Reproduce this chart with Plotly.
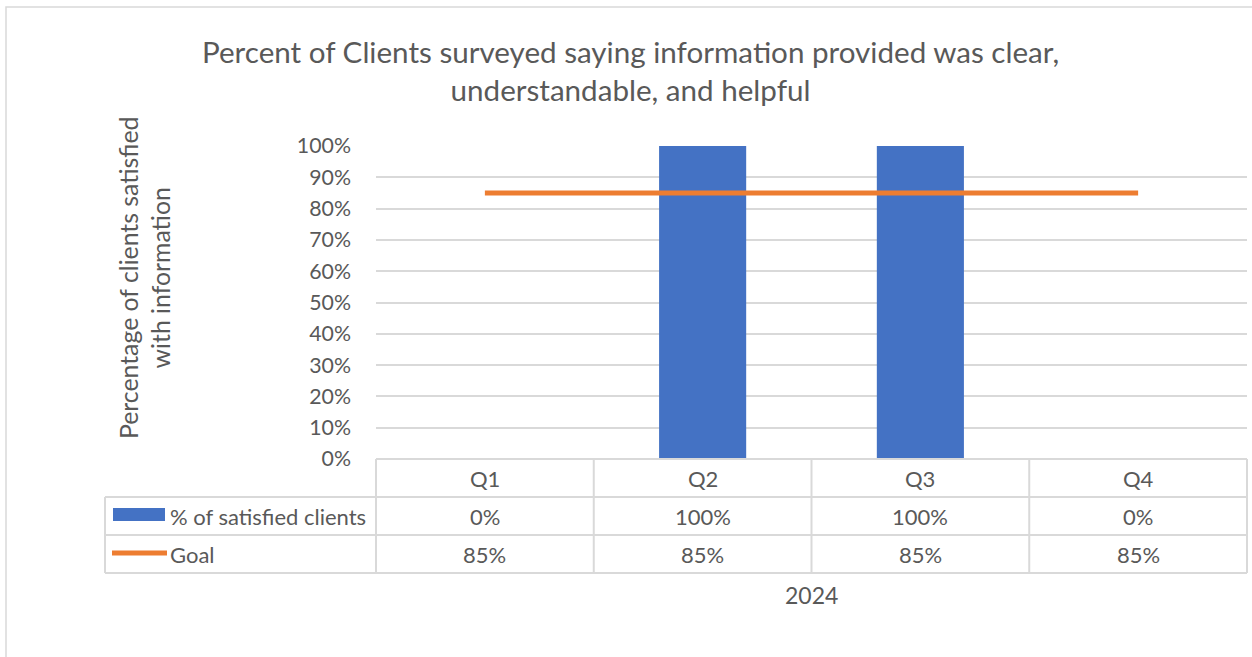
import plotly.graph_objects as go

quarters = ["Q1", "Q2", "Q3", "Q4"]
satisfied = [0, 100, 100, 0]
goal = [85, 85, 85, 85]
series_names = ["% of satisfied clients", "Goal"]
year_label = "2024"
title_text = "Percent of Clients surveyed saying information provided was clear,<br>understandable, and helpful"
y_title = "Percentage of clients satisfied<br>with information"

W, H = 1252, 657
BAR_COLOR = "#4472C4"
LINE_COLOR = "#ED7D31"
TEXT = "#595959"
GRID = "#D9D9D9"
FONT = "Lato"

def px(x):
    return x / W

def py(y):
    return 1 - y / H

x0, x1 = 376, 1247
y_top, y_bot = 146, 459
cat_w = (x1 - x0) / len(quarters)

fig = go.Figure()
fig.add_trace(go.Bar(x=quarters, y=satisfied, name=series_names[0],
                     marker=dict(color=BAR_COLOR, line=dict(width=0)), showlegend=False))
fig.add_trace(go.Scatter(x=quarters, y=goal, name=series_names[1], mode="lines",
                         line=dict(color=LINE_COLOR, width=5), showlegend=False))

fig.update_layout(
    width=W, height=H, autosize=False,
    margin=dict(l=0, r=0, t=0, b=0, pad=0, autoexpand=False),
    paper_bgcolor="white", plot_bgcolor="white",
    bargap=0.6,
    font=dict(family=FONT, color=TEXT, size=21),
    xaxis=dict(domain=[px(x0), px(x1)], showticklabels=False, showgrid=False,
               showline=False, zeroline=False, ticks="", automargin=False),
    yaxis=dict(domain=[py(y_bot), py(y_top)], range=[0, 100], dtick=10,
               ticksuffix="%", showgrid=True, gridcolor=GRID, gridwidth=1.5,
               zeroline=False, showline=False, ticks="", ticklabelstandoff=24,
               automargin=False, tickfont=dict(size=21.3, color=TEXT)),
)

shapes = []
line_style = dict(color=GRID, width=2)
# outer chart border
shapes.append(dict(type="rect", xref="paper", yref="paper", x0=px(6), x1=px(1262),
                   y0=py(667), y1=py(7), line=dict(color=GRID, width=1.5)))
# table horizontal lines
rows_y = [459, 497, 535, 573]
shapes.append(dict(type="line", xref="paper", yref="paper", x0=px(x0), x1=px(x1),
                   y0=py(rows_y[0]), y1=py(rows_y[0]), line=line_style))
for ry in rows_y[1:]:
    shapes.append(dict(type="line", xref="paper", yref="paper", x0=px(105), x1=px(x1),
                       y0=py(ry), y1=py(ry), line=line_style))
# vertical lines
shapes.append(dict(type="line", xref="paper", yref="paper", x0=px(105), x1=px(105),
                   y0=py(497), y1=py(573), line=line_style))
for i in range(len(quarters) + 1):
    vx = x0 + i * cat_w
    shapes.append(dict(type="line", xref="paper", yref="paper", x0=px(vx), x1=px(vx),
                       y0=py(459), y1=py(573), line=line_style))
# legend keys
shapes.append(dict(type="rect", xref="paper", yref="paper", x0=px(113), x1=px(165),
                   y0=py(521), y1=py(508), fillcolor=BAR_COLOR, line=dict(width=0)))
shapes.append(dict(type="line", xref="paper", yref="paper", x0=px(112), x1=px(167),
                   y0=py(553), y1=py(553), line=dict(color=LINE_COLOR, width=5)))

annotations = []
annotations.append(dict(text=title_text, xref="paper", yref="paper", x=px(630), y=py(70),
                        showarrow=False, font=dict(size=29.6, color=TEXT),
                        xanchor="center", yanchor="middle", align="center"))
annotations.append(dict(text=y_title, xref="paper", yref="paper", x=px(144), y=py(278),
                        showarrow=False, textangle=-90, font=dict(size=24.8, color=TEXT),
                        xanchor="center", yanchor="middle", align="center"))
row_centers = [478, 516, 554]
TS = 22
for i, q in enumerate(quarters):
    cx = x0 + (i + 0.5) * cat_w
    annotations.append(dict(text=q, xref="paper", yref="paper", x=px(cx), y=py(row_centers[0]),
                            showarrow=False, xanchor="center", yanchor="middle",
                            font=dict(size=TS, color=TEXT)))
    annotations.append(dict(text=f"{satisfied[i]}%", xref="paper", yref="paper", x=px(cx),
                            y=py(row_centers[1]), showarrow=False, xanchor="center",
                            yanchor="middle", font=dict(size=TS, color=TEXT)))
    annotations.append(dict(text=f"{goal[i]}%", xref="paper", yref="paper", x=px(cx),
                            y=py(row_centers[2]), showarrow=False, xanchor="center",
                            yanchor="middle", font=dict(size=TS, color=TEXT)))
annotations.append(dict(text=series_names[0], xref="paper", yref="paper", x=px(168),
                        y=py(516), showarrow=False, xanchor="left", yanchor="middle",
                        font=dict(size=TS, color=TEXT)))
annotations.append(dict(text=series_names[1], xref="paper", yref="paper", x=px(168),
                        y=py(554), showarrow=False, xanchor="left", yanchor="middle",
                        font=dict(size=TS, color=TEXT)))
annotations.append(dict(text=year_label, xref="paper", yref="paper", x=px(811), y=py(595),
                        showarrow=False, xanchor="center", yanchor="middle",
                        font=dict(size=23, color=TEXT)))

fig.update_layout(shapes=shapes, annotations=annotations)
fig.write_html("out.html", config={"displayModeBar": False},
               post_script="document.body.style.margin='0';")
